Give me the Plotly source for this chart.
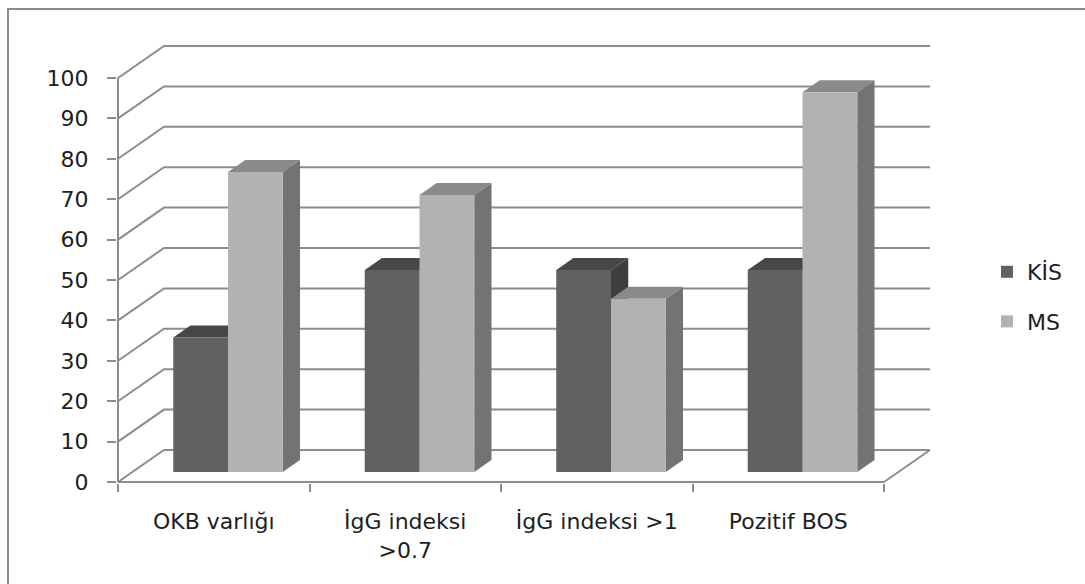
import plotly.graph_objects as go

# ---- data -------------------------------------------------------------
categories = ["OKB varlığı", "İgG indeksi<br>>0.7", "İgG indeksi >1", "Pozitif BOS"]
series_names = ["KİS", "MS"]
kis_values = [33.3, 50, 50, 50]
ms_values = [74.3, 68.6, 42.9, 94.0]
y_ticks = list(range(0, 101, 10))

# ---- geometry / style --------------------------------------------------
W, H = 1085, 584
PX_X = 191.5          # pixels per category on the front plane
PX_Y = 4.04           # pixels per value unit on the front plane
X0_PX, Y0_PX = 118, 482
ML, MR, MB, MT = 117, 149, 101, 38
x_range = [(ML - X0_PX) / PX_X, (W - MR - X0_PX) / PX_X]
y_range = [(Y0_PX - (H - MB)) / PX_Y, (Y0_PX - MT) / PX_Y]

DX = 46 / PX_X        # oblique depth offset (front plane -> back wall), x units
DY = 32 / PX_Y        # oblique depth offset, y units
D_FRONT, D_BACK = 0.31, 0.685   # bar depth span as fraction of the floor depth
BAR_W = 0.286
GROUP_C = 0.5

GRID = "#8c8c8c"
TEXT = "#1e1e1e"
FONT = "DejaVu Sans"
FS = 22
colors = {
    "KİS": dict(front="#616161", top="#474747", side="#3e3e3e"),
    "MS": dict(front="#b2b2b2", top="#8a8a8a", side="#737373"),
}

n = len(categories)
fig = go.Figure()

# ---- walls, floor and axis lines -------------------------------------
gx, gy = [], []
for v in y_ticks:
    gx += [0, DX, n + DX, None]
    gy += [v, v + DY, v + DY, None]
gx += [n, n + DX, None, 0, n, None, 0, 0]
gy += [0, DY, None, 0, 0, None, 0, y_ticks[-1]]
fig.add_trace(go.Scatter(x=gx, y=gy, mode="lines", line=dict(color=GRID, width=2),
                         hoverinfo="skip", showlegend=False))

# ---- bar top and side faces (behind the front faces) -----------------
series = [("KİS", kis_values, -1), ("MS", ms_values, +1)]
for i in range(n):
    for name, vals, sgn in series:
        v = vals[i]
        a = i + GROUP_C + (BAR_W if sgn > 0 else -BAR_W) / 2 - BAR_W / 2
        b = a + BAR_W
        f0x, f0y = D_FRONT * DX, D_FRONT * DY
        f1x, f1y = D_BACK * DX, D_BACK * DY
        top_x = [a + f0x, b + f0x, b + f1x, a + f1x, a + f0x]
        top_y = [v + f0y, v + f0y, v + f1y, v + f1y, v + f0y]
        side_x = [b + f0x, b + f0x, b + f1x, b + f1x, b + f0x]
        side_y = [f0y, v + f0y, v + f1y, f1y, f0y]
        for fx, fy, col in ((side_x, side_y, colors[name]["side"]),
                            (top_x, top_y, colors[name]["top"])):
            fig.add_trace(go.Scatter(x=fx, y=fy, mode="lines", fill="toself",
                                     fillcolor=col, line=dict(width=0, color=col),
                                     hoverinfo="skip", showlegend=False))

# ---- bar front faces ---------------------------------------------------
for name, vals, sgn in series:
    centers = [i + GROUP_C + sgn * BAR_W / 2 + D_FRONT * DX for i in range(n)]
    fig.add_trace(go.Bar(x=centers, y=vals, base=[D_FRONT * DY] * n, width=BAR_W,
                         name=name, legendgroup=name,
                         marker=dict(color=colors[name]["front"], line=dict(width=0)),
                         xaxis="x2", yaxis="y2"))


def px_to_paper(px, py):
    pw, ph = W - ML - MR, H - MT - MB
    return (px - ML) / pw, (H - MB - py) / ph


bx0, by0 = px_to_paper(8, 9)
bx1, by1 = px_to_paper(W + 20, H + 20)

fig.update_layout(
    width=W, height=H,
    margin=dict(l=ML, r=MR, t=MT, b=MB, pad=0),
    paper_bgcolor="white", plot_bgcolor="white",
    font=dict(family=FONT, size=FS, color=TEXT),
    barmode="overlay",
    xaxis=dict(range=x_range, tickmode="array", tickvals=[i + 0.5 for i in range(n)],
               ticktext=categories, ticks="", showgrid=False, zeroline=False,
               showline=False, tickfont=dict(size=FS, color=TEXT),
               ticklabelstandoff=23,
               minor=dict(tickmode="array", tickvals=list(range(n + 1)), ticks="outside",
                          ticklen=8, tickwidth=2, tickcolor=GRID, showgrid=False)),
    yaxis=dict(range=y_range, tickmode="array", tickvals=y_ticks, ticks="outside",
               ticklen=9, tickwidth=2, tickcolor=GRID, showgrid=False, zeroline=False,
               showline=False, tickfont=dict(size=FS, color=TEXT), ticklabelstandoff=14),
    xaxis2=dict(range=x_range, overlaying="x", visible=False),
    yaxis2=dict(range=y_range, overlaying="y", visible=False),
    legend=dict(xref="container", yref="container", x=987 / W, y=1 - 251 / H,
                xanchor="left", yanchor="top", font=dict(size=FS, color=TEXT),
                tracegroupgap=18, bgcolor="rgba(0,0,0,0)"),
    shapes=[dict(type="rect", xref="paper", yref="paper", x0=bx0, y0=by0, x1=bx1, y1=by1,
                 line=dict(color="#8a8a8a", width=2), layer="below")],
)

fig.write_html("out.html")
